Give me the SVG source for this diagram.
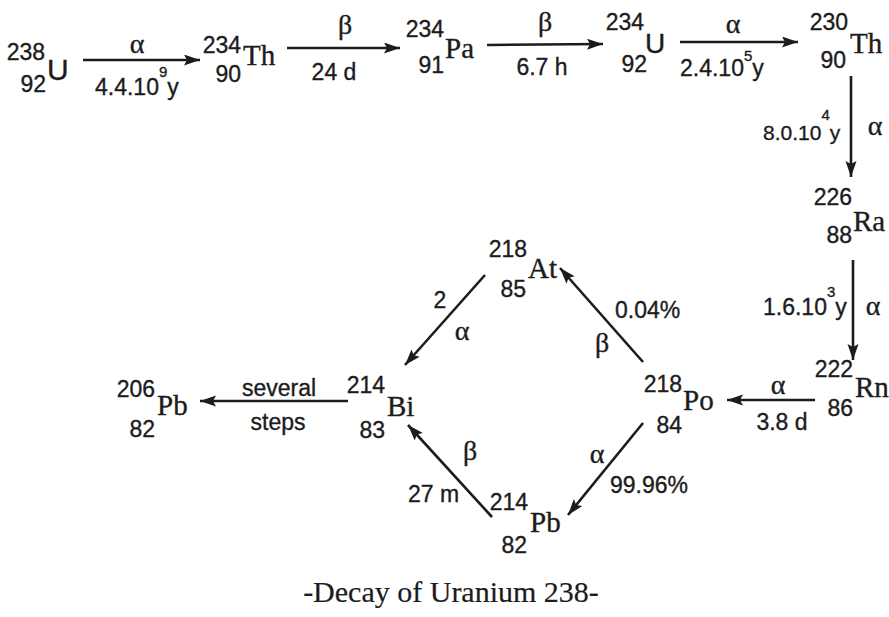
<svg xmlns="http://www.w3.org/2000/svg" width="889" height="617" viewBox="0 0 889 617">
<style>
text{fill:#1c1c1c;stroke:#1c1c1c;stroke-width:0.35}
.n{font-family:"Liberation Sans Narrow","Liberation Sans",sans-serif;font-size:23px}
.e{font-size:15px}
.s{font-family:"Liberation Serif",serif;font-size:29px}
.u{font-family:"Liberation Sans",sans-serif;font-size:30px}
.g{font-family:"Liberation Serif",serif;font-size:28px}
.end{text-anchor:end}
.mid{text-anchor:middle}
.cap{font-family:"Liberation Serif",serif;font-size:30px;text-anchor:middle;stroke-width:0.2}
#connectors line{stroke:#1c1c1c;stroke-width:2.6;marker-end:url(#ah)}
</style>
<defs>
<marker id="ah" markerUnits="userSpaceOnUse" markerWidth="18" markerHeight="12" refX="16" refY="5.5" orient="auto">
<path d="M0,0 L16,5.5 L0,11 L3,5.5 z" fill="#1c1c1c"/>
</marker>
</defs>
<rect width="889" height="617" fill="#fff"/>

<g id="connectors">
<line x1="83" y1="60" x2="200" y2="60"/>
<line x1="287" y1="48" x2="400" y2="48"/>
<line x1="487" y1="45" x2="603" y2="44"/>
<line x1="680" y1="42" x2="798" y2="42"/>
<line x1="851" y1="76" x2="851" y2="177"/>
<line x1="853" y1="260" x2="853" y2="360"/>
<line x1="815" y1="400" x2="727" y2="400"/>
<line x1="643" y1="362" x2="560" y2="268"/>
<line x1="485" y1="275" x2="405" y2="365"/>
<line x1="643" y1="423" x2="568" y2="515"/>
<line x1="492" y1="517" x2="408" y2="425"/>
<line x1="348" y1="401" x2="200" y2="401"/>
<g id="edge-labels">
<text class="g mid" x="137" y="53">α</text>
<text class="n" x="95" y="95">4.4.10<tspan class="e" dy="-18">9</tspan><tspan dy="18">y</tspan></text>
<text class="g mid" x="345" y="34">β</text>
<text class="n mid" x="334" y="80">24 d</text>
<text class="g mid" x="545" y="31">β</text>
<text class="n mid" x="542" y="75">6.7 h</text>
<text class="g mid" x="733" y="33">α</text>
<text class="n" x="680" y="76">2.4.10<tspan class="e" dy="-15">5</tspan><tspan dy="15">y</tspan></text>
<text class="n" x="763" y="140" style="font-size:21px">8.0.10<tspan class="e" dy="-20">4</tspan><tspan dy="20">y</tspan></text>
<text class="g mid" x="875" y="135">α</text>
<text class="n" x="763" y="315">1.6.10<tspan class="e" dy="-18">3</tspan><tspan dy="18">y</tspan></text>
<text class="g mid" x="873" y="315">α</text>
<text class="g mid" x="778" y="394">α</text>
<text class="n mid" x="782" y="430">3.8 d</text>
<text class="n" x="615" y="318">0.04%</text>
<text class="g mid" x="602" y="352">β</text>
<text class="n mid" x="440" y="308">2</text>
<text class="g mid" x="462" y="340">α</text>
<text class="g mid" x="597" y="463">α</text>
<text class="n" x="610" y="493">99.96%</text>
<text class="g mid" x="470" y="460">β</text>
<text class="n" x="408" y="502">27 m</text>
<text class="n mid" x="279" y="396">several</text>
<text class="n mid" x="278" y="430">steps</text>
</g>
</g>

<g id="U238">
<text class="n end" x="45" y="60">238</text>
<text class="n end" x="46" y="92">92</text>
<text class="u" x="47" y="80">U</text>
</g>
<g id="Th234">
<text class="n end" x="241" y="53">234</text>
<text class="n end" x="241" y="82">90</text>
<text class="s" x="243" y="65">Th</text>
</g>
<g id="Pa234">
<text class="n end" x="444" y="37">234</text>
<text class="n end" x="444" y="73">91</text>
<text class="s" x="445" y="58">Pa</text>
</g>
<g id="U234">
<text class="n end" x="644" y="30">234</text>
<text class="n end" x="647" y="72">92</text>
<text class="u" x="645" y="53" style="font-size:28px">U</text>
</g>
<g id="Th230">
<text class="n end" x="848" y="30">230</text>
<text class="n end" x="846" y="68">90</text>
<text class="s" x="850" y="53">Th</text>
</g>
<g id="Ra226">
<text class="n end" x="852" y="205">226</text>
<text class="n end" x="852" y="243">88</text>
<text class="s" x="853" y="231">Ra</text>
</g>
<g id="Rn222">
<text class="n end" x="853" y="377">222</text>
<text class="n end" x="853" y="416">86</text>
<text class="s" x="855" y="397">Rn</text>
</g>
<g id="Po218">
<text class="n end" x="682" y="392">218</text>
<text class="n end" x="682" y="433">84</text>
<text class="s" x="683" y="410">Po</text>
</g>
<g id="At218">
<text class="n end" x="527" y="257">218</text>
<text class="n end" x="526" y="297">85</text>
<text class="s" x="528" y="278">At</text>
</g>
<g id="Bi214">
<text class="n end" x="385" y="393">214</text>
<text class="n end" x="385" y="438">83</text>
<text class="s" x="387" y="416">Bi</text>
</g>
<g id="Pb214">
<text class="n end" x="528" y="510">214</text>
<text class="n end" x="527" y="553">82</text>
<text class="s" x="530" y="532">Pb</text>
</g>
<g id="Pb206">
<text class="n end" x="155" y="397">206</text>
<text class="n end" x="155" y="437">82</text>
<text class="s" x="157" y="415">Pb</text>
</g>

<text class="cap" x="451" y="602">-Decay of Uranium 238-</text>
</svg>
